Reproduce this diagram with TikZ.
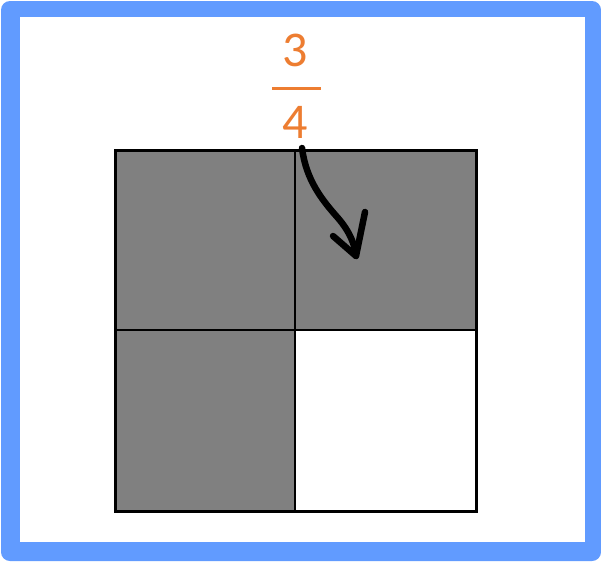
\documentclass[tikz,border=0pt]{standalone}
\usepackage{fontspec}
\setmainfont{Carlito}
\definecolor{frameblue}{HTML}{619BFF}
\definecolor{fracorange}{HTML}{ED7D31}
\definecolor{cellgray}{HTML}{808080}
\tikzset{
  cell/.style={draw=black, line width=2.2pt},
  frac/.style={text=fracorange, font=\fontsize{50}{50}\selectfont, inner sep=0pt},
  pen/.style={line width=6.5pt, line cap=round, line join=round}
}
\begin{document}
\begin{tikzpicture}[x=1pt,y=-1pt]
\useasboundingbox (0,0) rectangle (601,563);
\fill[white] (0,0) rectangle (601,563);
\fill[frameblue, rounded corners=9pt] (1,1) rectangle (601,561);
\fill[white] (20,17) rectangle (585,542);
% cells
\fill[cellgray] (115,150) rectangle (476,511);
\fill[white] (295,330) rectangle (476,511);
\draw[cell] (295,150) -- (295,511);
\draw[cell] (115,330) -- (476,330);
\draw[black, line width=3pt] (115,150) rectangle (476,511);
% fraction
\node[frac] (num) at (295,50) {3};
\node[frac] (den) at (295,122) {4};
\coordinate (barL) at (272,88);
\coordinate (barR) at (321,88);
\draw[fracorange, line width=3pt] (barL) -- (barR);
% arrow
\coordinate (a0) at (302,148);
\coordinate (tip) at (356,256);
\coordinate (bl) at (333,236);
\coordinate (br) at (365,212);
\draw[pen] (a0) .. controls (306,180) and (322,200) .. (338,218) .. controls (350,232) and (355,245) .. (tip);
\draw[pen] (bl) -- (tip) -- (br);
\end{tikzpicture}
\end{document}
